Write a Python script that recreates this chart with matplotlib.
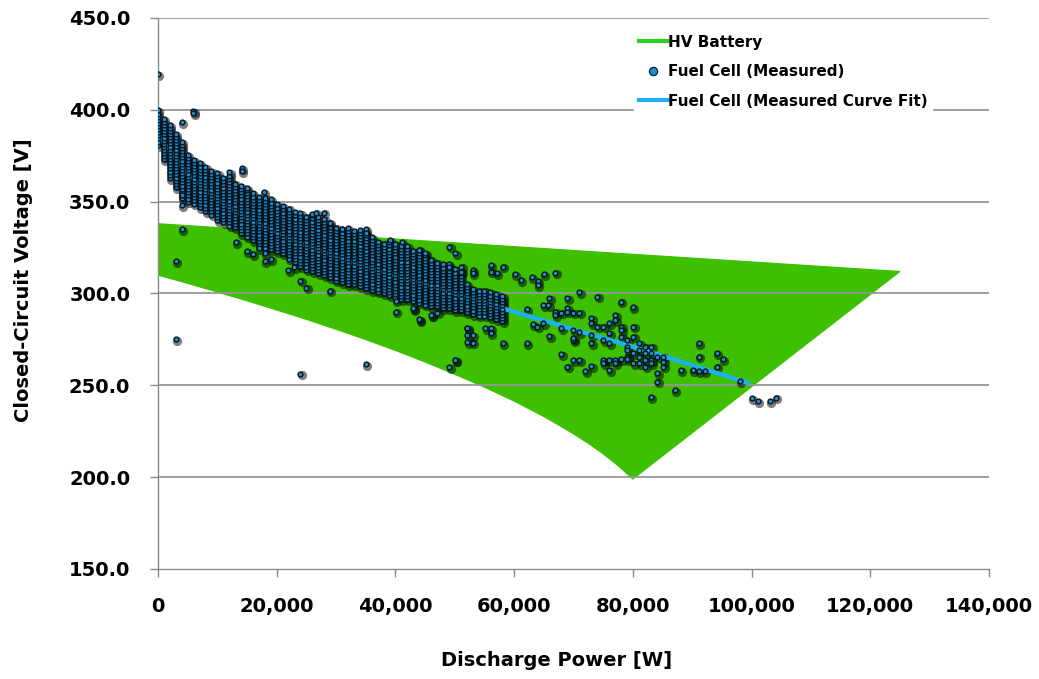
import numpy as np
import matplotlib
matplotlib.use("Agg")
import matplotlib.pyplot as plt
from matplotlib.lines import Line2D
from matplotlib.transforms import offset_copy

# ---------------- data ----------------
# HV battery envelope
batt_upper_power = [0, 125000]
batt_upper_v = [338, 312]
batt_lower_power = [0, 5000, 10000, 15000, 20000, 25000, 30000, 35000, 40000, 45000,
                    50000, 55000, 60000, 65000, 67500, 70000, 72500, 75000, 77500, 80000]
batt_lower_v = [310, 305.5, 300.8, 296, 291, 285.9, 280.5, 274.9, 269, 262.7,
                256, 249, 241.4, 233, 228.4, 223.6, 218.4, 212.7, 206.3, 199]

# Fuel cell measured: dense columns (power step 1 kW), top / bottom voltage of each column
band_power = list(range(0, 59000, 1000))
band_top = [401, 396, 392, 388, 383, 377, 374, 371, 369, 368,
            366, 364, 366, 361, 359, 357, 355, 354, 353, 352,
            350, 348, 347, 345, 344, 343, 343, 342, 341, 338,
            337, 336, 336, 335, 335, 334, 331, 329, 328, 328,
            327, 327, 326, 324, 324, 322, 319, 318, 316, 316,
            314, 313, 306, 304, 303, 302, 302, 301, 300]
band_bot = [381, 373, 363, 358, 352, 350, 349, 347, 345, 343,
            340, 339, 337, 336, 333, 331, 329, 327, 325, 324,
            323, 322, 319, 317, 315, 313, 312, 311, 310, 309,
            307, 306, 305, 305, 304, 303, 302, 301, 300, 299,
            298, 297, 297, 296, 295, 294, 293, 293, 292, 292,
            291, 291, 290, 289, 288, 288, 287, 286, 285]
band_row_step = 1.7  # voltage resolution of the measured data

# Fuel cell measured: scattered points
sparse_power = [0, 5950, 5950, 4050, 4050, 4050, 4050, 3000, 14100, 14100, 14940, 13090,
                3030, 23970, 34990, 50090, 52100, 52100, 52100,
                14940, 15950, 16960, 17970, 18990, 17970, 21950, 22960, 23970, 24980, 28980,
                17860, 25940, 26620, 27960, 28980, 31000, 35040, 35040, 39080, 41100,
                40040, 40040, 43010, 44080, 46110, 47050,
                60140, 61150, 62950, 63960, 63960, 64970, 66930, 70980, 74010, 78000, 80020,
                68950, 65920, 64910, 66930, 66930, 67940, 68950, 68950, 69960, 70980,
                69960, 69960, 70980, 73000, 73000, 73000, 73000, 74010, 75020, 75020,
                76030, 76030, 76030, 77040, 77040, 78050, 78050, 78050, 79060, 79060,
                79060, 79060, 80070, 80070, 80070, 81080, 81080, 81080, 82090, 82090,
                82090, 83100, 83100, 83100, 83100, 84110, 84110, 84110, 85130, 85130,
                85130, 88050, 90070, 91080, 92090, 91080, 91080, 94110, 94110, 95120,
                98040, 100060, 101070, 103090, 104100, 82990, 87040,
                75020, 75020, 76030, 76030, 77040, 77040, 78050, 79060, 80070, 81080,
                82090, 71990, 73000, 68950, 69960, 70980, 67940, 65920, 62100, 58120,
                53060, 53060, 52110, 50090, 49080, 43010, 44020, 46050, 55140, 56100,
                56100, 62160, 63170, 63900, 64910, 65750, 67940, 69960,
                49080, 50090, 44020, 45030, 49080, 51100, 51100, 53060, 53060, 56100,
                56100, 57100, 58120]
sparse_v = [419.4, 399.5, 398.3, 393.5, 353.8, 348.0, 335.0, 317.7, 368.3, 366.7, 357.5, 328.0,
            275.3, 256.4, 261.6, 263.6, 281.0, 277.3, 273.5,
            323.3, 321.5, 324.6, 317.7, 318.6, 322.2, 312.8, 314.3, 307.0, 303.2, 301.6,
            355.4, 343.3, 344.0, 344.0, 338.6, 335.0, 335.0, 333.1, 329.1, 328.0,
            296.1, 290.1, 291.4, 285.6, 288.3, 289.6,
            310.6, 307.4, 308.8, 306.8, 304.6, 310.6, 311.4, 300.6, 298.3, 295.6, 292.5,
            297.4, 297.4, 293.8, 290.1, 288.3, 289.6, 291.9, 290.1, 289.6, 289.6,
            280.2, 274.7, 279.2, 286.5, 283.8, 277.4, 272.9, 282.0, 282.0, 274.7,
            283.8, 278.3, 272.9, 288.3, 285.6, 282.0, 280.2, 276.5, 274.7, 271.1,
            269.3, 265.6, 282.0, 276.5, 267.4, 272.9, 269.3, 265.6, 271.1, 267.4,
            263.8, 271.1, 267.4, 263.8, 262.0, 265.6, 256.5, 252.0, 265.6, 262.9,
            260.2, 258.4, 258.4, 257.8, 257.8, 272.9, 265.6, 267.4, 260.2, 264.2,
            252.4, 243.0, 241.5, 241.5, 243.3, 243.5, 247.3,
            263.8, 262.0, 263.8, 258.4, 263.8, 262.0, 264.2, 264.2, 262.0, 262.0,
            260.2, 257.8, 260.5, 260.2, 263.8, 263.8, 267.1, 276.9, 272.9, 272.9,
            277.4, 273.3, 281.2, 263.8, 259.8, 291.9, 285.9, 288.3, 281.0, 281.0,
            278.3, 291.6, 283.4, 282.0, 284.1, 293.8, 281.2, 275.6,
            325.5, 322.2, 323.7, 322.2, 314.6, 314.6, 311.9, 312.8, 311.0, 315.5,
            311.9, 311.0, 314.6]

# Fuel cell measured curve fit
fit_power = [0, 2000, 5000, 10000, 15000, 20000, 25000, 30000, 35000, 40000,
             45000, 50000, 55000, 60000, 70000, 80000, 90000, 99700]
fit_v = [386, 378, 365, 351, 341, 333, 326, 320, 314.5, 309.5,
         305, 300, 295, 290, 280.5, 271, 261, 251]

x_ticks = [0, 20000, 40000, 60000, 80000, 100000, 120000, 140000]
y_ticks = [150, 200, 250, 300, 350, 400, 450]

# ---------------- styles ----------------
GREEN_FILL = "#3cc000"
GREEN_LEG = "#2fd020"
FIT_BLUE = "#1cb2ef"
MK_FACE = "#1f8fcc"
MK_EDGE = "#06141f"
GRID = "#969696"
FONT = "DejaVu Sans"

fig = plt.figure(figsize=(10.39, 6.79), dpi=100)
ax = fig.add_axes([158 / 1039, 1 - 569 / 679, (989 - 158) / 1039, (569 - 18) / 679])
ax.set_xlim(0, 140000)
ax.set_ylim(150, 450)

# battery envelope polygon
poly_x = list(batt_upper_power) + list(batt_lower_power[::-1])
poly_y = list(batt_upper_v) + list(batt_lower_v[::-1])
ax.fill(poly_x, poly_y, color=GREEN_FILL, lw=0.8, ec=GREEN_FILL, zorder=1)

# grid
for yv in y_ticks[1:]:
    ax.axhline(yv, color=GRID, lw=1.3, zorder=1.5)

# scatter points
px, pv = [], []
for p, t, b in zip(band_power, band_top, band_bot):
    vals = np.arange(b, t + 0.01, band_row_step)
    px.extend([p] * len(vals))
    pv.extend(vals.tolist())
px.extend(sparse_power)
pv.extend(sparse_v)

shadow_tr = offset_copy(ax.transData, fig=fig, x=1.3, y=-1.8, units='dots')
ax.scatter(px, pv, s=44, color="black", alpha=0.5, lw=0, transform=shadow_tr, zorder=2)
ax.plot(fit_power, fit_v, color=FIT_BLUE, lw=3.2, zorder=2.5, solid_capstyle='butt')
ax.scatter(px, pv, s=12, facecolor=MK_FACE, edgecolor=MK_EDGE, lw=1.0, zorder=3)

# axes styling
for s in ["top", "right"]:
    ax.spines[s].set_visible(False)
for s in ["left", "bottom"]:
    ax.spines[s].set_color("#8a8a8a")
    ax.spines[s].set_linewidth(1.0)

ax.set_xticks(x_ticks)
ax.set_xticklabels(["0" if v == 0 else f"{v:,}" for v in x_ticks])
ax.set_yticks(y_ticks)
ax.set_yticklabels([f"{v:.1f}" for v in y_ticks])
ax.tick_params(axis='both', direction='out', length=6, width=1.0, color="#8a8a8a")
ax.tick_params(axis='y', pad=14, labelsize=14)
ax.tick_params(axis='x', pad=14, labelsize=14)
for lab in ax.get_xticklabels() + ax.get_yticklabels():
    lab.set_fontweight('bold')
    lab.set_family(FONT)

fig.text(557 / 1039, 1 - 660 / 679, "Discharge Power [W]", ha='center', va='center',
         fontsize=14, fontweight='bold', family=FONT)
fig.text(24 / 1039, 1 - 280 / 679, "Closed-Circuit Voltage [V]", ha='center', va='center',
         rotation=90, fontsize=14, fontweight='bold', family=FONT)

handles = [
    Line2D([], [], color=GREEN_LEG, lw=3),
    Line2D([], [], ls='none', marker='o', markersize=6, markerfacecolor=MK_FACE,
           markeredgecolor=MK_EDGE, markeredgewidth=0.8),
    Line2D([], [], color=FIT_BLUE, lw=3),
]
labels = ["HV Battery", "Fuel Cell (Measured)", "Fuel Cell (Measured Curve Fit)"]
leg = fig.legend(handles, labels, loc='upper left', bbox_to_anchor=(634 / 1039, 1 - 30 / 679),
                 frameon=True, fancybox=False, edgecolor='white', facecolor='white',
                 framealpha=1, borderaxespad=0, borderpad=0.3, handlelength=1.9,
                 handletextpad=0.0, labelspacing=0.95,
                 prop={'family': FONT, 'weight': 'bold', 'size': 11})
leg.set_zorder(5)

fig.savefig("out.png", dpi=100)
